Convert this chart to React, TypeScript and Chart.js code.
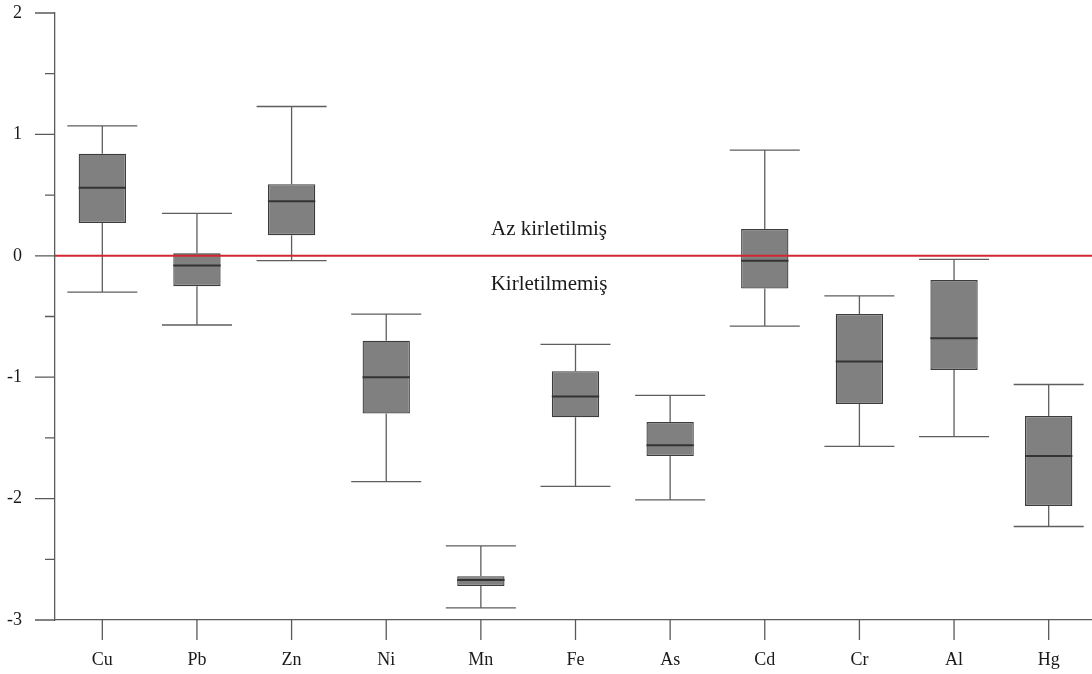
import React, { useEffect, useRef } from "react";
import { Chart, registerables } from "chart.js";

Chart.register(...registerables);

const categories = ["Cu", "Pb", "Zn", "Ni", "Mn", "Fe", "As", "Cd", "Cr", "Al", "Hg"];
const whiskerMax = [1.07, 0.35, 1.23, -0.48, -2.39, -0.73, -1.15, 0.87, -0.33, -0.03, -1.06];
const q3 = [0.84, 0.02, 0.59, -0.7, -2.64, -0.95, -1.37, 0.22, -0.48, -0.2, -1.32];
const medians = [0.56, -0.08, 0.45, -1.0, -2.67, -1.16, -1.56, -0.04, -0.87, -0.68, -1.65];
const q1 = [0.27, -0.25, 0.17, -1.3, -2.72, -1.33, -1.65, -0.27, -1.22, -0.94, -2.06];
const whiskerMin = [-0.3, -0.57, -0.04, -1.86, -2.9, -1.9, -2.01, -0.58, -1.57, -1.49, -2.23];
const yMin = -3;
const yMax = 2;
const thresholdValue = 0;
const upperLabel = "Az kirletilmiş";
const lowerLabel = "Kirletilmemiş";

const SERIF = "'Liberation Serif', 'Times New Roman', serif";
const AXIS = "#5a5a5a";

const boxPlugin = {
  id: "boxExtras",
  afterDatasetsDraw(chart: any) {
    const ctx = chart.ctx;
    const xs = chart.scales.x;
    const ys = chart.scales.y;
    const meta = chart.getDatasetMeta(0);
    const area = chart.chartArea;
    ctx.save();
    categories.forEach((_, i) => {
      const x = xs.getPixelForValue(i);
      const bar = meta.data[i];
      const bw = bar ? bar.width : 47;
      const capHalf = bw * 0.74;
      const yTop = ys.getPixelForValue(whiskerMax[i]);
      const yQ3 = ys.getPixelForValue(q3[i]);
      const yQ1 = ys.getPixelForValue(q1[i]);
      const yBot = ys.getPixelForValue(whiskerMin[i]);
      const yMed = ys.getPixelForValue(medians[i]);
      ctx.strokeStyle = "#5e5e5e";
      ctx.lineWidth = 1.3;
      ctx.beginPath();
      ctx.moveTo(x, yTop);
      ctx.lineTo(x, yQ3);
      ctx.moveTo(x, yQ1);
      ctx.lineTo(x, yBot);
      ctx.moveTo(x - capHalf, yTop);
      ctx.lineTo(x + capHalf, yTop);
      ctx.moveTo(x - capHalf, yBot);
      ctx.lineTo(x + capHalf, yBot);
      ctx.stroke();
      ctx.strokeStyle = "#333333";
      ctx.lineWidth = 2;
      ctx.beginPath();
      ctx.moveTo(x - bw / 2, yMed);
      ctx.lineTo(x + bw / 2, yMed);
      ctx.stroke();
    });
    // threshold line
    const y0 = ys.getPixelForValue(thresholdValue);
    ctx.strokeStyle = "#d4262e";
    ctx.lineWidth = 2;
    ctx.beginPath();
    ctx.moveTo(area.left, y0);
    ctx.lineTo(area.right, y0);
    ctx.stroke();
    // annotations
    const tx = xs.getPixelForValue(4) + 0.72 * (xs.getPixelForValue(5) - xs.getPixelForValue(4));
    ctx.fillStyle = "#1a1a1a";
    ctx.font = `21px ${SERIF}`;
    ctx.textAlign = "center";
    ctx.textBaseline = "middle";
    ctx.fillText(upperLabel, tx, ys.getPixelForValue(0.22));
    ctx.fillText(lowerLabel, tx, ys.getPixelForValue(-0.24));
    // axis ticks
    ctx.strokeStyle = AXIS;
    ctx.lineWidth = 1.3;
    ctx.beginPath();
    for (let v = yMin; v <= yMax + 1e-9; v += 0.5) {
      const py = ys.getPixelForValue(v);
      const major = Math.abs(v - Math.round(v)) < 1e-9;
      ctx.moveTo(area.left - (major ? 20 : 10), py);
      ctx.lineTo(area.left, py);
    }
    categories.forEach((_, i) => {
      const px = xs.getPixelForValue(i);
      ctx.moveTo(px, area.bottom);
      ctx.lineTo(px, area.bottom + 20);
    });
    ctx.stroke();
    ctx.restore();
  },
};

export default function App() {
  const ref = useRef<HTMLCanvasElement | null>(null);
  useEffect(() => {
    if (!ref.current) return;
    const chart = new Chart(ref.current, {
      type: "bar",
      data: {
        labels: categories,
        datasets: [
          {
            data: categories.map((_, i) => [q1[i], q3[i]]) as any,
            backgroundColor: "#808080",
            borderColor: "#3c3c3c",
            borderWidth: 1.3,
            borderSkipped: false,
            barPercentage: 0.5,
            categoryPercentage: 1,
          },
        ],
      },
      options: {
        animation: false,
        responsive: false,
        maintainAspectRatio: false,
        layout: { padding: { top: 13, right: 0, left: 0, bottom: 0 } },
        plugins: { legend: { display: false }, tooltip: { enabled: false } },
        scales: {
          x: {
            type: "category",
            offset: true,
            grid: { display: false, drawTicks: false },
            border: { display: true, color: AXIS, width: 1.3 },
            ticks: { font: { family: SERIF, size: 18 }, color: "#1a1a1a", padding: 29 },
            afterFit: (s: any) => {
              s.height = 54;
            },
          },
          y: {
            min: yMin,
            max: yMax,
            grid: { display: false, drawTicks: false },
            border: { display: true, color: AXIS, width: 1.3 },
            ticks: {
              stepSize: 1,
              font: { family: SERIF, size: 18 },
              color: "#1a1a1a",
              padding: 33,
            },
            afterFit: (s: any) => {
              s.width = 55;
              s.paddingTop = 0;
              s.paddingBottom = 0;
            },
          },
        },
      },
      plugins: [boxPlugin],
    } as any);
    return () => chart.destroy();
  }, []);
  return (
    <div
      style={{
        position: "absolute",
        left: 0,
        top: 0,
        width: 1092,
        height: 674,
        overflow: "hidden",
        background: "#fff",
      }}
    >
      <canvas ref={ref} width={1096} height={674} style={{ display: "block", width: 1096, height: 674 }} />
    </div>
  );
}
